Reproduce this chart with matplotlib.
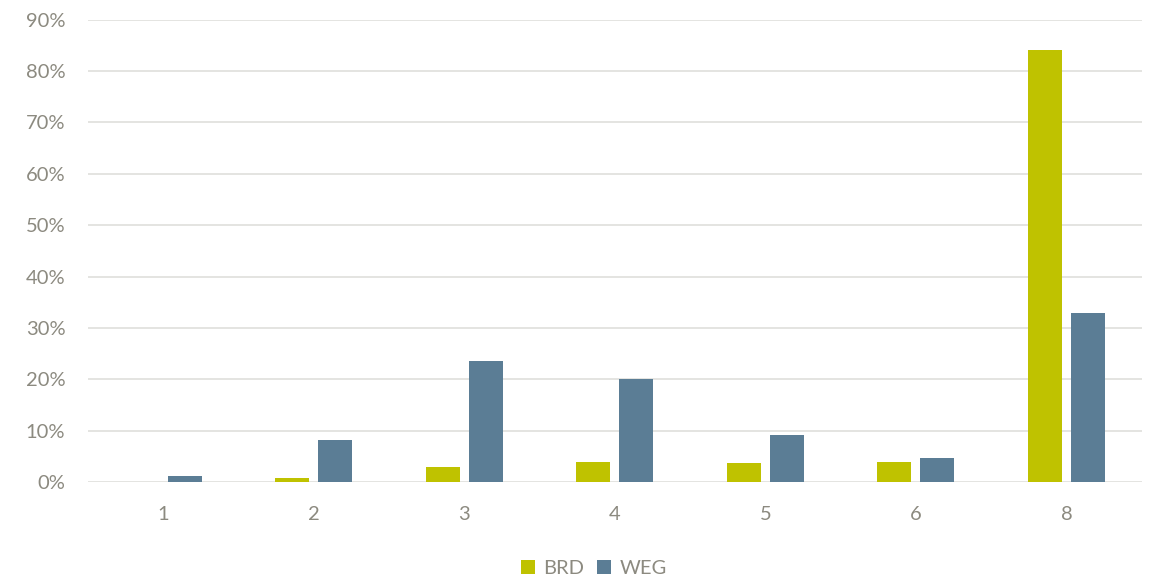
import numpy as np
import matplotlib.pyplot as plt
from matplotlib.ticker import PercentFormatter

# Values (percent)
categories = ["1", "2", "3", "4", "5", "6", "8"]
brd = [0.0, 0.7, 2.9, 4.0, 3.8, 4.0, 84.0]
weg = [1.1, 8.2, 23.5, 20.0, 9.1, 4.6, 33.0]

plt.rcParams["font.family"] = ["Lato", "DejaVu Sans"]
text_col = "#8C8A80"

fig = plt.figure(figsize=(11.52, 5.78), dpi=100)
ax = fig.add_axes([0.0766, 0.166, 0.9144, 0.8])

x = np.arange(len(categories))
w = 0.226
off = 0.143
ax.bar(x - off, brd, w, color="#BFC200", label="BRD", zorder=3)
ax.bar(x + off, weg, w, color="#5B7D95", label="WEG", zorder=3)

ax.set_xlim(-0.5, len(categories) - 0.5)
ax.set_ylim(0, 90)
ax.set_yticks(np.arange(0, 91, 10))
ax.yaxis.set_major_formatter(PercentFormatter(decimals=0))
ax.set_xticks(x)
ax.set_xticklabels(categories)

ax.grid(axis="y", color="#E2E2DE", linewidth=1.3, zorder=0)
for s in ax.spines.values():
    s.set_visible(False)
ax.tick_params(axis="both", length=0, labelsize=14.5, colors=text_col)
ax.tick_params(axis="x", pad=17)
ax.tick_params(axis="y", pad=16.5)

ax.legend(loc="upper center", bbox_to_anchor=(0.48, -0.13), ncol=2, frameon=False,
          fontsize=14.5, labelcolor=text_col, handlelength=0.7, handleheight=0.7,
          columnspacing=0.65, handletextpad=0.4)

fig.savefig("out.png", dpi=100)
